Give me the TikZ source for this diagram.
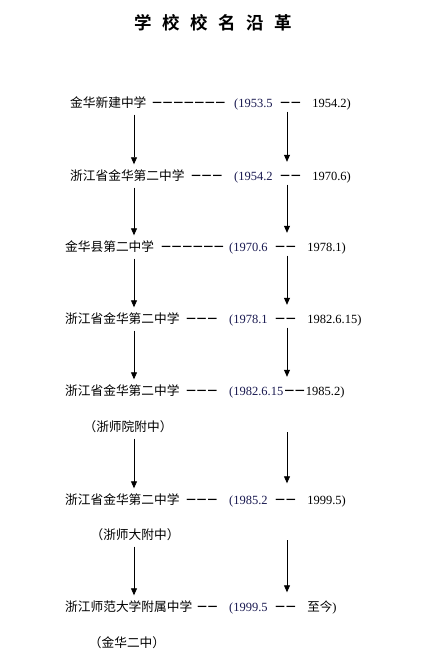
\documentclass[tikz,border=0pt]{standalone}
\usepackage{fontspec}
\setmainfont{Liberation Serif}
\newfontfamily\cjk{Noto Sans CJK SC}
\newfontfamily\cjkbold{Noto Sans CJK SC Bold}
\newfontfamily\cjkdash[LetterSpace=-13]{Noto Sans CJK SC Bold}
\usetikzlibrary{arrows.meta}
\definecolor{datenavy}{RGB}{25,25,80}
\newcommand\dashfont{\cjkdash\fontsize{12.1}{14}\selectfont}
\newcommand\years[2]{{\color{datenavy}(#1}\hspace{6.5pt}{\dashfont －－}\hspace{10.5pt}#2)}

\begin{document}
\begin{tikzpicture}[x=1pt,y=-1pt,
 schoolname/.style={anchor=west,inner xsep=0pt,inner ysep=5.8pt,text height=10.5pt,text depth=0.9pt,font=\cjk\fontsize{12.7}{14}\selectfont},
 remark/.style={schoolname,anchor=center},
 dashrow/.style={schoolname,font=\dashfont},
 period/.style={anchor=west,inner xsep=0pt,inner ysep=3.7pt,text height=9pt,text depth=0.6pt,font=\fontsize{12.5}{14}\selectfont},
 arr/.style={line width=0.8pt,-{Triangle[length=7pt,width=6pt]}}]
 \useasboundingbox (0,0) rectangle (426,668);
 \node (title) at (213,23) {\cjkbold\fontsize{17.5}{20}\selectfont
  学\hspace{10.5pt}校\hspace{10.5pt}校\hspace{10.5pt}名\hspace{10.5pt}沿\hspace{10.5pt}革};
 \coordinate (lx) at (134,0);
 \coordinate (rx) at (287,0);
 % names, dashes and periods
 \node[schoolname] (name1) at (70,103) {金华新建中学};
 \node[dashrow] (dash1) at (151,103) {－－－－－－－};
 \node[period] (date1) at (234,103) {\years{1953.5}{1954.2}};
 \node[schoolname] (name2) at (70,176) {浙江省金华第二中学};
 \node[dashrow] (dash2) at (190,176) {－－－};
 \node[period] (date2) at (234,176) {\years{1954.2}{1970.6}};
 \node[schoolname] (name3) at (65,247) {金华县第二中学};
 \node[dashrow] (dash3) at (160,247) {－－－－－－};
 \node[period] (date3) at (229,247) {\years{1970.6}{1978.1}};
 \node[schoolname] (name4) at (65,319) {浙江省金华第二中学};
 \node[dashrow] (dash4) at (185,319) {－－－};
 \node[period] (date4) at (229,319) {\years{1978.1}{1982.6.15}};
 \node[schoolname] (name5) at (65,391) {浙江省金华第二中学};
 \node[dashrow] (dash5) at (185,391) {－－－};
 \node[period] (date5) at (229,391) {{\color{datenavy}(1982.6.15}{\dashfont －－}1985.2)};
 \node[remark] (note5) at (128,427) {（浙师院附中）};
 \node[schoolname] (name6) at (65,500) {浙江省金华第二中学};
 \node[dashrow] (dash6) at (185,500) {－－－};
 \node[period] (date6) at (229,500) {\years{1985.2}{1999.5}};
 \node[remark] (note6) at (135,535) {（浙师大附中）};
 \node[schoolname] (name7) at (65,607) {浙江师范大学附属中学};
 \node[dashrow] (dash7) at (196,607) {－－};
 \node[period] (date7) at (229,607) {\years{1999.5}{{\cjk 至今}}};
 \node[remark] (note7) at (127,643) {（金华二中）};
 % left arrows
 \draw[arr] (name1.south -| lx) -- (name2.north -| lx);
 \draw[arr] (name2.south -| lx) -- (name3.north -| lx);
 \draw[arr] (name3.south -| lx) -- (name4.north -| lx);
 \draw[arr] (name4.south -| lx) -- (name5.north -| lx);
 \draw[arr] (note5.south -| lx) -- (name6.north -| lx);
 \draw[arr] (note6.south -| lx) -- (name7.north -| lx);
 % right arrows
 \draw[arr,shorten >=5.5pt] (date1.south -| rx) -- (date2.north -| rx);
 \draw[arr,shorten >=5.5pt] (date2.south -| rx) -- (date3.north -| rx);
 \draw[arr,shorten >=5.5pt] (date3.south -| rx) -- (date4.north -| rx);
 \draw[arr,shorten >=5.5pt] (date4.south -| rx) -- (date5.north -| rx);
 \draw[arr,shorten <=5pt,shorten >=8pt] (note5 -| rx) -- (date6.north -| rx);
 \draw[arr,shorten <=5pt,shorten >=6pt] (note6 -| rx) -- (date7.north -| rx);
\end{tikzpicture}
\end{document}
